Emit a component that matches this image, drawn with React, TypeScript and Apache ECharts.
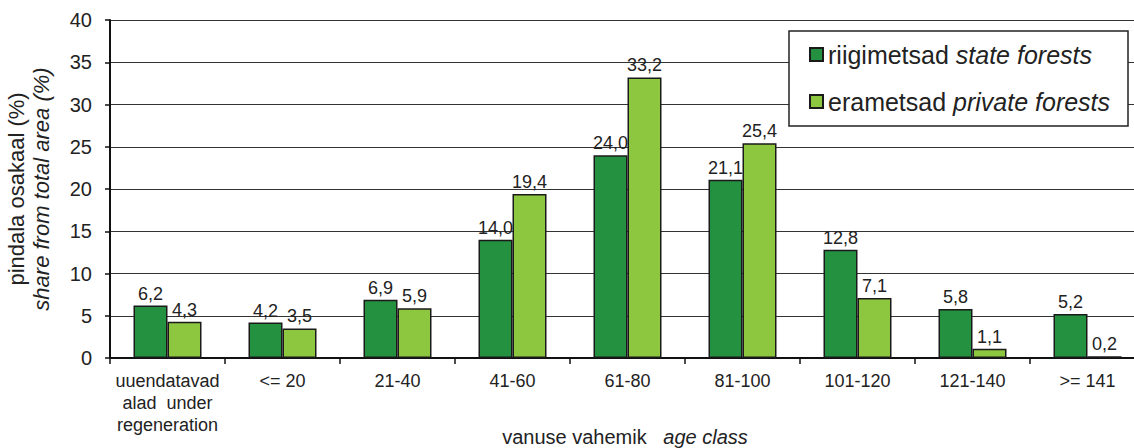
import React, { useEffect, useRef } from "react";
import * as echarts from "echarts";

const categories = [
  "uuendatavad\nalad  under\nregeneration",
  "<= 20",
  "21-40",
  "41-60",
  "61-80",
  "81-100",
  "101-120",
  "121-140",
  ">= 141",
];
const stateForests = [6.2, 4.2, 6.9, 14.0, 24.0, 21.1, 12.8, 5.8, 5.2];
const privateForests = [4.3, 3.5, 5.9, 19.4, 33.2, 25.4, 7.1, 1.1, 0.2];
const seriesNames = ["riigimetsad", "erametsad"];
const seriesNamesEn = ["state forests", "private forests"];
const xTitle = ["vanuse vahemik", "age class"];
const yTicks = { min: 0, max: 40, interval: 5 };

const FONT = "Arial, 'Liberation Sans', sans-serif";
const DARK = "#249140";
const LIGHT = "#8DC63F";
const TEXT = "#222";

export default function App() {
  const ref = useRef<HTMLDivElement>(null);
  useEffect(() => {
    if (!ref.current) return;
    const chart = echarts.init(ref.current, undefined, { renderer: "svg" });
    const label = {
      show: true,
      position: "top",
      distance: 3,
      fontFamily: FONT,
      fontSize: 18,
      color: TEXT,
      formatter: (p: any) => Number(p.value).toFixed(1).replace(".", ","),
    };
    chart.setOption({
      animation: false,
      backgroundColor: "#fff",
      textStyle: { fontFamily: FONT },
      grid: { left: 110, top: 20, width: 1035, height: 338, outerBoundsMode: "none", containLabel: false },
      graphic: [
        {
          type: "rect",
          z: 10,
          shape: { x: 789, y: 31, width: 339, height: 95 },
          style: { fill: "#fff", stroke: "#222", lineWidth: 1.5 },
        },
        {
          type: "text",
          z: 10,
          x: 625,
          y: 437,
          style: {
            text: `{n|${xTitle[0]}   }{i|${xTitle[1]}}`,
            align: "center",
            verticalAlign: "middle",
            rich: {
              n: { fontFamily: FONT, fontSize: 20, lineHeight: 20, fill: TEXT },
              i: { fontFamily: FONT, fontSize: 20, lineHeight: 20, fill: TEXT, fontStyle: "italic" },
            },
          },
        },
      ],
      legend: {
        z: 20,
        orient: "vertical",
        left: 809,
        top: 42,
        padding: 0,
        itemWidth: 13,
        itemHeight: 13,
        itemGap: 22,
        icon: "rect",
        data: seriesNames,
        formatter: (name: string) => {
          const i = seriesNames.indexOf(name);
          return `{n|${name} }{i|${seriesNamesEn[i]}}`;
        },
        textStyle: {
          rich: {
            n: { fontFamily: FONT, fontSize: 25, color: TEXT, lineHeight: 26 },
            i: { fontFamily: FONT, fontSize: 25, color: TEXT, fontStyle: "italic", lineHeight: 26 },
          },
        },
      },
      xAxis: {
        type: "category",
        data: categories,
        axisLine: { lineStyle: { color: "#111", width: 2 } },
        axisTick: { show: true, length: 6, lineStyle: { color: "#111", width: 1.5 } },
        axisLabel: {
          fontFamily: FONT,
          fontSize: 18,
          color: TEXT,
          margin: 12,
          lineHeight: 22,
          interval: 0,
        },
      },
      yAxis: {
        type: "value",
        min: yTicks.min,
        max: yTicks.max,
        interval: yTicks.interval,
        name: "{n|pindala osakaal (%)}\n{i|share from total area (%)}",
        nameLocation: "middle",
        nameGap: 56,
        nameTextStyle: {
          rich: {
            n: { fontFamily: FONT, fontSize: 22, color: TEXT, lineHeight: 25 },
            i: { fontFamily: FONT, fontSize: 22, color: TEXT, fontStyle: "italic", lineHeight: 25 },
          },
        },
        axisLine: { show: true, lineStyle: { color: "#111", width: 2 } },
        axisTick: { show: true, length: 5, lineStyle: { color: "#111", width: 1.5 } },
        axisLabel: { fontFamily: FONT, fontSize: 20, color: TEXT, margin: 18 },
        splitLine: { show: true, lineStyle: { color: "#333", width: 1 } },
      },
      series: [
        {
          name: seriesNames[0],
          type: "bar",
          data: stateForests,
          barWidth: 34,
          barGap: "0%",
          itemStyle: { color: DARK, borderColor: "#1a1a1a", borderWidth: 1.5 },
          label,
        },
        {
          name: seriesNames[1],
          type: "bar",
          data: privateForests,
          barWidth: 34,
          barGap: "0%",
          itemStyle: { color: LIGHT, borderColor: "#1a1a1a", borderWidth: 1.5 },
          label,
        },
      ],
    });
    return () => chart.dispose();
  }, []);
  return (
    <div
      ref={ref}
      style={{ position: "fixed", left: 0, top: 0, width: 1134, height: 448 }}
    />
  );
}
